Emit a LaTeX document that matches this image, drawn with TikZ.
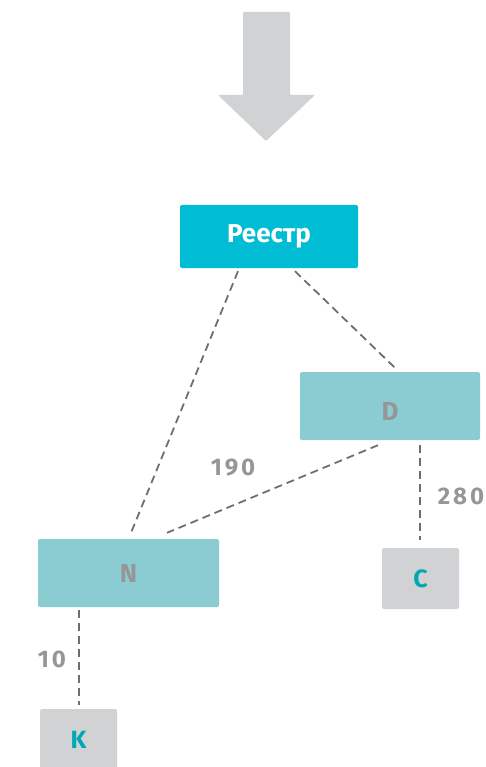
\documentclass[tikz,border=0pt]{standalone}
\usepackage{fontspec}
\setmainfont{Fira Sans}
\newfontfamily\lblfont[LetterSpace=12]{Fira Sans}
\definecolor{regc}{RGB}{0,188,212}
\definecolor{midc}{RGB}{139,204,210}
\definecolor{greyc}{RGB}{208,210,211}
\definecolor{tealt}{RGB}{0,168,181}
\definecolor{txtg}{RGB}{150,150,152}
\definecolor{linec}{RGB}{110,110,110}
\definecolor{arrc}{RGB}{208,210,211}
\begin{document}
\begin{tikzpicture}[x=1pt,y=-1pt,
  box/.style={rectangle,rounded corners=2pt,inner sep=0pt,font=\bfseries\fontsize{26}{30}\selectfont},
  conn/.style={draw=linec,dash pattern=on 8pt off 5pt,line width=1.8pt},
  lbl/.style={text=txtg,font=\lblfont\bfseries\fontsize{24}{28}\selectfont}]
\useasboundingbox (0,0) rectangle (485,767);
% big arrow
\fill[arrc,rounded corners=1pt] (243,12) -- (290,12) -- (290,95) -- (315,95) -- (266,141) -- (218,95) -- (243,95) -- cycle;
% nodes
\node[box,fill=regc,text=white,minimum width=178pt,minimum height=63pt] (reg) at (269,236.5) {Реестр};
\node[box,fill=midc,text=txtg,minimum width=180pt,minimum height=68pt,text depth=0pt,text height=29pt] (d) at (390,406) {D};
\node[box,fill=midc,text=txtg,minimum width=181pt,minimum height=68pt] (n) at (128.5,573) {N};
\node[box,fill=greyc,text=tealt,minimum width=77pt,minimum height=61pt,font=\bfseries\fontsize{25}{30}\selectfont] (c) at (420.5,578.5) {C};
\node[box,fill=greyc,text=tealt,minimum width=77pt,minimum height=62pt,font=\bfseries\fontsize{25}{30}\selectfont] (k) at (78.5,740) {K};
% connector endpoints
\coordinate (r1) at ([xshift=-31pt,yshift=-3pt]reg.south);
\coordinate (r2) at ([xshift=26pt,yshift=-3pt]reg.south);
\coordinate (n1) at ([xshift=2.5pt,yshift=6pt]n.north);
\coordinate (n2) at ([xshift=38.5pt,yshift=6pt]n.north);
\coordinate (d1) at ([xshift=7pt,yshift=2pt]d.north);
\coordinate (d2) at ([xshift=-12pt,yshift=-5pt]d.south);
\coordinate (d3) at ([xshift=30pt,yshift=-5pt]d.south);
\coordinate (c1) at ([yshift=8pt]c.north -| d3);
\coordinate (n3) at ([xshift=-49.5pt,yshift=-3pt]n.south);
\coordinate (k1) at ([xshift=0.5pt,yshift=4pt]k.north);
\draw[conn] (r1) -- (n1);
\draw[conn] (r2) -- (d1);
\draw[conn] (d2) -- (n2);
\draw[conn] (d3) -- (c1);
\draw[conn] (n3) -- (k1);
% labels
\node[lbl] (l190) at (233,468) {190};
\node[lbl] (l280) at (461,496) {280};
\node[lbl] (l10) at (52,659) {10};
\end{tikzpicture}
\end{document}
